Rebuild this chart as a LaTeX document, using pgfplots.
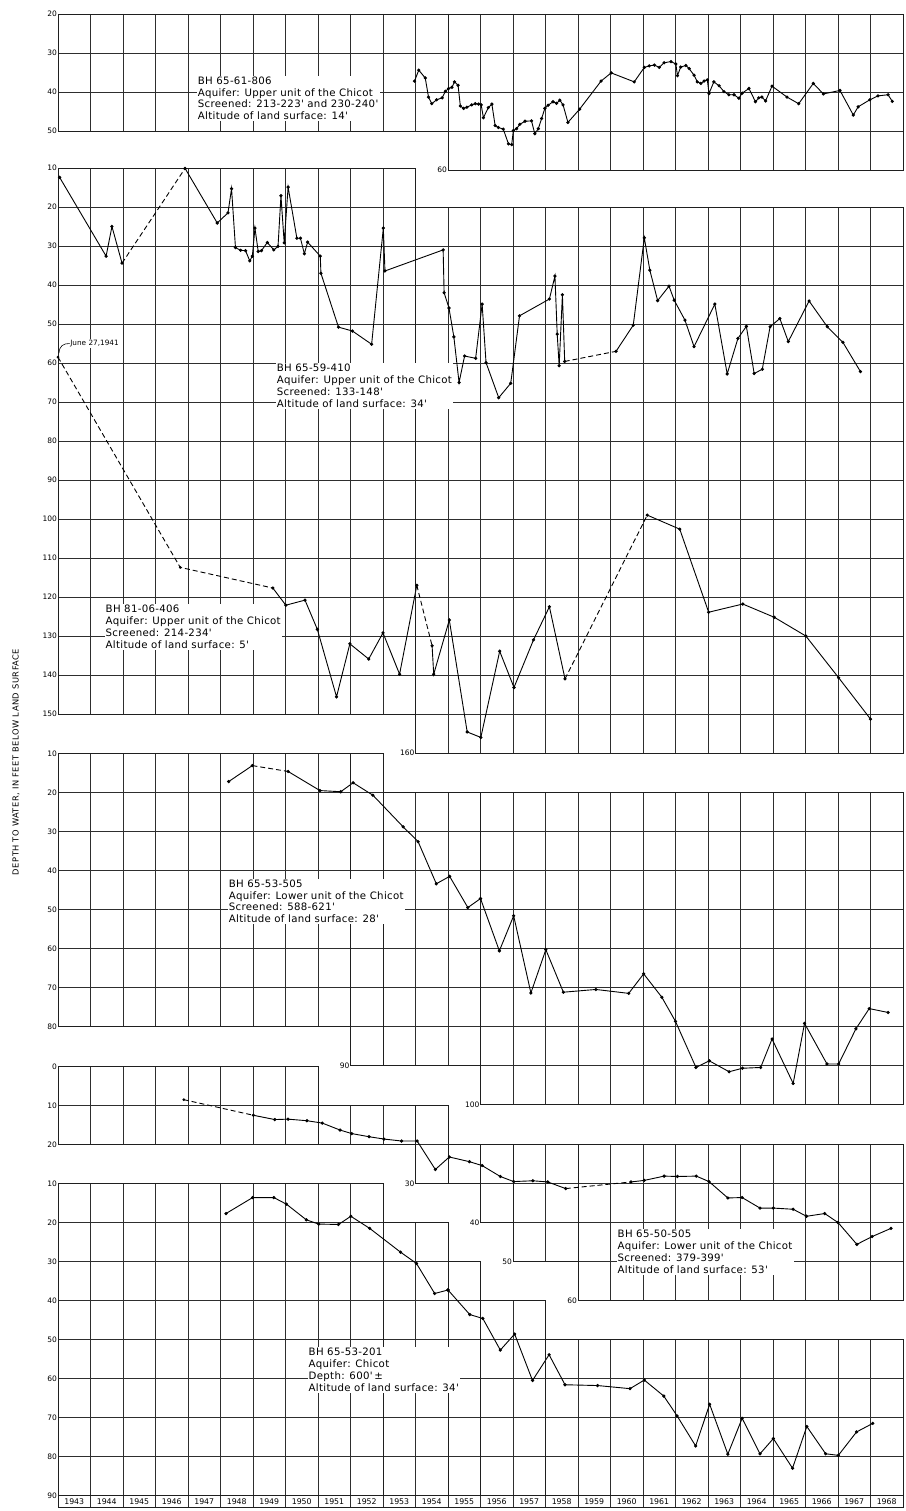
\documentclass[border=0pt]{standalone}
\usepackage{fontspec}
\setmainfont{DejaVu Sans}
\newfontfamily\spacedfont[LetterSpace=6]{DejaVu Sans}
\newfontfamily\annfamily[LetterSpace=3]{DejaVu Sans}
\usepackage{pgfplots}
\pgfplotsset{compat=1.18}
\usepackage{pgfplotstable}

\pgfplotsset{
  panel/.style={
    x=32.5pt, y=3.9pt, y dir=reverse, anchor=north west,
    axis line style={line width=0.7pt, black!88},
    grid=major,
    major grid style={line width=0.65pt, black!82},
    xtick={1943,1944,...,1969}, xticklabels={},
    major tick length=0pt,
    yticklabel style={font=\fontsize{7.5}{8}\selectfont, inner sep=0.8pt},
    /pgf/number format/assume math mode=true,
  },
  dl/.style={black, line width=0.9pt, mark=*, mark size=1.15pt, mark options={solid}},
  dsh/.style={black, line width=0.9pt, dash pattern=on 5pt off 3pt},
}

% ---------- BH 65-61-806 ----------
\pgfplotstableread{
x d
1953.97 37.2
1954.10 34.4
1954.30 36.4
1954.40 41.3
1954.50 43.0
1954.65 42.0
1954.82 41.5
1954.92 39.8
1955.02 39.1
1955.12 38.8
1955.20 37.4
1955.31 38.3
1955.38 43.6
1955.48 44.2
1955.58 43.9
1955.73 43.3
1955.84 43.0
1955.94 43.1
1956.02 43.3
1956.09 46.6
1956.24 44.0
1956.35 43.1
1956.45 48.6
1956.55 49.1
1956.70 49.5
1956.86 53.3
1956.96 53.5
1957.01 49.9
1957.11 49.4
1957.21 48.3
1957.37 47.5
1957.57 47.4
1957.67 50.7
1957.78 49.4
1957.88 46.8
1957.98 44.2
1958.08 43.4
1958.23 42.5
1958.34 42.9
1958.44 42.1
1958.54 43.3
1958.69 47.8
1959.05 44.4
1959.71 37.2
1960.02 35.1
1960.73 37.4
1961.04 33.7
1961.19 33.3
1961.35 33.1
1961.50 33.7
1961.65 32.5
1961.86 32.2
1962.01 32.8
1962.06 35.8
1962.16 33.6
1962.32 33.2
1962.42 34.0
1962.57 35.7
1962.67 37.4
1962.78 37.8
1962.88 37.2
1962.98 36.9
1963.03 40.4
1963.18 37.4
1963.34 38.4
1963.49 39.9
1963.64 40.7
1963.80 40.7
1963.95 41.6
1964.05 40.3
1964.26 39.1
1964.46 42.5
1964.56 41.5
1964.66 41.3
1964.77 42.3
1964.97 38.5
1965.43 41.3
1965.79 43.0
1966.24 37.8
1966.55 40.5
1967.06 39.6
1967.47 45.9
1967.62 43.8
1967.98 42.0
1968.23 41.0
1968.54 40.7
1968.67 42.4
}\tOne

% ---------- BH 65-59-410 ----------
\pgfplotstableread{
x d
1943.05 12.4
1944.48 32.6
1944.66 25.0
1944.97 34.4
}\tTwoA
\pgfplotstableread{
x d
1946.91 10.1
1947.90 24.1
1948.23 21.5
1948.34 15.3
1948.46 30.4
1948.62 31.1
1948.77 31.2
1948.90 33.8
1948.98 32.6
1949.06 25.4
1949.16 31.4
1949.26 31.2
1949.44 29.1
1949.64 31.0
1949.77 30.1
1949.86 17.1
1949.96 29.2
1950.08 14.9
1950.35 28.0
1950.46 28.0
1950.58 32.0
1950.68 29.0
1951.07 32.6
1951.09 37.0
1951.63 50.8
1952.06 51.8
1952.65 55.2
1953.01 25.4
1953.06 36.4
1954.85 31.0
1954.88 42.0
1955.03 45.9
1955.18 53.3
1955.34 65.0
1955.51 58.2
1955.85 58.8
1956.05 44.9
1956.17 59.9
1956.56 68.9
1956.93 65.2
1957.20 47.9
1958.12 43.6
1958.29 37.7
1958.36 52.6
1958.42 60.7
1958.52 42.5
1958.59 59.6
}\tTwoB
\pgfplotstableread{
x d
1960.17 57.0
1960.70 50.3
1961.04 27.9
1961.21 36.2
1961.45 44.0
1961.80 40.3
1961.96 43.9
1962.29 49.0
1962.57 55.8
1963.21 44.9
1963.59 62.8
1963.92 53.7
1964.18 50.6
1964.42 62.7
1964.67 61.6
1964.91 50.7
1965.21 48.6
1965.47 54.5
1966.11 44.1
1966.67 50.7
1967.15 54.7
1967.69 62.2
}\tTwoC

% ---------- BH 81-06-406 ----------
\pgfplotstableread{
x d
1949.61 117.7
1950.01 122.1
1950.60 120.8
1950.98 128.3
1951.57 145.6
1951.98 132.0
1952.56 135.9
1953.00 129.2
1953.51 139.8
1954.04 117.0
}\tTwoD
\pgfplotstableread{
x d
1954.51 132.5
1954.56 139.8
1955.04 125.9
1955.59 154.6
1956.01 156.0
1956.59 133.9
1957.03 143.2
1957.63 131.0
1958.12 122.5
1958.60 141.0
}\tTwoE
\pgfplotstableread{
x d
1961.13 99.0
1962.13 102.6
1963.02 123.9
1964.07 121.8
1965.04 125.2
1966.01 130.0
1967.02 140.7
1968.00 151.3
}\tTwoF

% ---------- BH 65-53-505 ----------
\pgfplotstableread{
x d
1948.25 17.2
1948.98 13.1
}\tThrA
\pgfplotstableread{
x d
1950.08 14.6
1951.06 19.5
1951.70 19.8
1952.08 17.5
1952.69 20.7
1953.62 28.8
1954.08 32.6
1954.64 43.4
1955.05 41.5
1955.61 49.5
1956.00 47.2
1956.58 60.6
1957.02 51.6
1957.55 71.4
1958.01 60.3
1958.55 71.2
1959.55 70.5
1960.56 71.5
1961.02 66.5
1961.58 72.5
1962.00 78.7
1962.63 90.5
1963.04 88.8
1963.65 91.6
1964.06 90.7
1964.62 90.5
1964.97 83.2
1965.62 94.6
1965.97 79.2
1966.66 89.6
1967.02 89.6
1967.55 80.6
1967.96 75.4
1968.54 76.4
}\tThrB

% ---------- BH 65-50-505 ----------
\pgfplotstableread{
x d
1949.01 12.5
1949.67 13.6
1950.08 13.5
1950.66 13.9
1951.13 14.5
1951.68 16.3
1952.04 17.2
1952.57 18.0
1953.03 18.6
1953.57 19.1
1954.05 19.1
1954.61 26.4
1955.04 23.2
1955.66 24.4
1956.05 25.4
1956.61 28.2
1957.02 29.5
1957.61 29.3
1958.07 29.6
1958.62 31.3
}\tFouA
\pgfplotstableread{
x d
1960.63 29.6
1961.04 29.2
1961.65 28.1
1962.06 28.2
1962.64 28.1
1963.03 29.5
1963.61 33.7
1964.05 33.6
1964.60 36.3
1965.01 36.3
1965.62 36.6
1966.03 38.4
1966.59 37.7
1967.00 40.0
1967.58 45.6
1968.05 43.6
1968.63 41.5
}\tFouB

% ---------- BH 65-53-201 ----------
\pgfplotstableread{
x d
1948.17 17.7
1948.99 13.6
1949.64 13.6
1950.03 15.3
1950.64 19.3
1951.02 20.4
1951.63 20.5
1952.01 18.4
1952.59 21.5
1953.54 27.6
1954.03 30.5
1954.59 38.2
1955.00 37.3
1955.67 43.6
1956.07 44.6
1956.61 52.7
1957.05 48.6
1957.60 60.5
1958.11 53.9
1958.60 61.6
1959.60 61.8
1960.60 62.6
1961.04 60.4
1961.64 64.5
1962.05 69.6
1962.62 77.3
1963.05 66.6
1963.61 79.4
1964.05 70.2
1964.60 79.3
1965.01 75.4
1965.60 83.0
1966.04 72.3
1966.62 79.3
1967.01 79.7
1967.57 73.7
1968.07 71.5
}\tFiv

\newcommand\PlotOne{\addplot[dl] table[x=x,y=d]{\tOne};}
\newcommand\PlotTwo{%
  \addplot[dl] table[x=x,y=d]{\tTwoA};
  \addplot[dsh] coordinates {(1944.97,34.4)(1946.91,10.1)};
  \addplot[dl] table[x=x,y=d]{\tTwoB};
  \addplot[dsh] coordinates {(1958.59,59.6)(1960.17,57.0)};
  \addplot[dl] table[x=x,y=d]{\tTwoC};
  \addplot[dsh] coordinates {(1943.00,58.5)(1946.76,112.4)(1949.61,117.7)};
  \addplot[only marks, mark=*, mark size=1.15pt] coordinates {(1943.00,58.5)(1946.76,112.4)};
  \addplot[dl] table[x=x,y=d]{\tTwoD};
  \addplot[dsh] coordinates {(1954.04,117.0)(1954.51,132.5)};
  \addplot[dl] table[x=x,y=d]{\tTwoE};
  \addplot[dsh] coordinates {(1958.60,141.0)(1961.13,99.0)};
  \addplot[dl] table[x=x,y=d]{\tTwoF};
}
\newcommand\PlotThr{%
  \addplot[dl] table[x=x,y=d]{\tThrA};
  \addplot[dsh] coordinates {(1948.98,13.1)(1950.08,14.6)};
  \addplot[dl] table[x=x,y=d]{\tThrB};
}
\newcommand\PlotFou{%
  \addplot[dsh] coordinates {(1946.87,8.5)(1949.01,12.5)};
  \addplot[only marks, mark=*, mark size=1.15pt] coordinates {(1946.87,8.5)};
  \addplot[dl] table[x=x,y=d]{\tFouA};
  \addplot[dsh] coordinates {(1958.62,31.3)(1960.63,29.6)};
  \addplot[dl] table[x=x,y=d]{\tFouB};
}
\newcommand\PlotFiv{\addplot[dl] table[x=x,y=d]{\tFiv};}

\newcommand\annfont{\annfamily\fontsize{10.2}{11.8}\selectfont}
\tikzset{ann/.style={anchor=north west, align=left, fill=white, inner xsep=1.2pt, inner ysep=1.2pt, font=\annfont}}

\begin{document}
\begin{tikzpicture}
\useasboundingbox (0,0) rectangle (905pt,-1511pt);

% ===== Panel 1 =====
\begin{axis}[panel, xmin=1943, xmax=1955, ymin=20, ymax=50, at={(58pt,-14pt)}, ytick={20,30,...,50}]
\PlotOne
\end{axis}
\begin{axis}[panel, xmin=1955, xmax=1969, ymin=20, ymax=60, at={(448pt,-14pt)}, ytick={20,30,...,60}, yticklabels={,,,,60}]
\PlotOne
\end{axis}

% ===== Panel 2 =====
\begin{axis}[panel, xmin=1943, xmax=1954, ymin=10, ymax=150, at={(58pt,-168pt)}, ytick={10,20,...,150}]
\PlotTwo
\end{axis}
\begin{axis}[panel, xmin=1954, xmax=1969, ymin=20, ymax=160, at={(415.5pt,-207pt)}, ytick={20,30,...,160}, yticklabels={,,,,,,,,,,,,,,160}]
\PlotTwo
\end{axis}

% ===== Panel 3 =====
\begin{axis}[panel, xmin=1943, xmax=1952, ymin=10, ymax=80, at={(58pt,-753.5pt)}, ytick={10,20,...,80}]
\PlotThr
\end{axis}
\begin{axis}[panel, xmin=1952, xmax=1953, ymin=10, ymax=90, at={(350.5pt,-753.5pt)}, ytick={10,20,...,90}, yticklabels={,,,,,,,,90}]
\PlotThr
\end{axis}
\begin{axis}[panel, xmin=1953, xmax=1956, ymin=20, ymax=90, at={(383pt,-792.5pt)}, ytick={20,30,...,90}, yticklabels={}]
\PlotThr
\end{axis}
\begin{axis}[panel, xmin=1956, xmax=1969, ymin=20, ymax=100, at={(480.5pt,-792.5pt)}, ytick={20,30,...,100}, yticklabels={,,,,,,,,100}]
\PlotThr
\end{axis}

% ===== Panel 4 =====
\begin{axis}[panel, xmin=1943, xmax=1951, ymin=0, ymax=20, at={(58pt,-1066.5pt)}, ytick={0,10,20}]
\PlotFou
\end{axis}
\begin{axis}[panel, xmin=1951, xmax=1954, ymin=10, ymax=20, at={(318pt,-1105.5pt)}, ytick={10,20}, yticklabels={}]
\PlotFou
\end{axis}
\begin{axis}[panel, xmin=1954, xmax=1955, ymin=10, ymax=30, at={(415.5pt,-1105.5pt)}, ytick={10,20,30}, yticklabels={,,30}]
\PlotFou
\end{axis}
\begin{axis}[panel, xmin=1955, xmax=1956, ymin=20, ymax=30, at={(448pt,-1144.5pt)}, ytick={20,30}, yticklabels={}]
\PlotFou
\end{axis}
\begin{axis}[panel, xmin=1956, xmax=1957, ymin=20, ymax=40, at={(480.5pt,-1144.5pt)}, ytick={20,30,40}, yticklabels={,,40}]
\PlotFou
\end{axis}
\begin{axis}[panel, xmin=1957, xmax=1959, ymin=20, ymax=50, at={(513pt,-1144.5pt)}, ytick={20,30,40,50}, yticklabels={,,,50}]
\PlotFou
\end{axis}
\begin{axis}[panel, xmin=1959, xmax=1969, ymin=20, ymax=60, at={(578pt,-1144.5pt)}, ytick={20,30,...,60}, yticklabels={,,,,60}]
\PlotFou
\end{axis}

% ===== Panel 5 =====
\begin{axis}[panel, xmin=1943, xmax=1953, ymin=10, ymax=90, at={(58pt,-1183.5pt)}, ytick={10,20,...,90}]
\PlotFiv
\end{axis}
\begin{axis}[panel, xmin=1953, xmax=1955, ymin=20, ymax=90, at={(383pt,-1222.5pt)}, ytick={20,30,...,90}, yticklabels={}]
\PlotFiv
\end{axis}
\begin{axis}[panel, xmin=1955, xmax=1956, ymin=30, ymax=90, at={(448pt,-1261.5pt)}, ytick={30,40,...,90}, yticklabels={}]
\PlotFiv
\end{axis}
\begin{axis}[panel, xmin=1956, xmax=1958, ymin=40, ymax=90, at={(480.5pt,-1300.5pt)}, ytick={40,50,...,90}, yticklabels={}]
\PlotFiv
\end{axis}
\begin{axis}[panel, xmin=1958, xmax=1969, ymin=50, ymax=90, at={(545.5pt,-1339.5pt)}, ytick={50,60,...,90}, yticklabels={}]
\PlotFiv
\end{axis}

% ===== Year band =====
\begin{axis}[x=32.5pt, y=11.5pt, xmin=1943, xmax=1969, ymin=0, ymax=1,
  anchor=north west, at={(58pt,-1495.5pt)},
  axis line style={line width=0.7pt, black!88},
  ytick=\empty, major tick length=0pt,
  xtick={1943.5,1944.5,...,1968.5},
  xticklabels={1943,1944,1945,1946,1947,1948,1949,1950,1951,1952,1953,1954,1955,1956,1957,1958,1959,1960,1961,1962,1963,1964,1965,1966,1967,1968},
  xticklabel style={anchor=center, yshift=5.75pt, font=\fontsize{7.8}{8}\selectfont},
  extra x ticks={1944,1945,...,1968}, extra x tick labels={},
  extra x tick style={grid=major, major grid style={line width=0.65pt, black!82}},
  /pgf/number format/assume math mode=true]
\end{axis}

% ===== Annotations =====
\node[ann] at (196.5pt,-75.4pt) {BH 65-61-806\\Aquifer: Upper unit of the Chicot\\Screened: 213-223' and 230-240'\\Altitude of land surface: 14'};
\node[ann] at (275.5pt,-362.9pt) {BH 65-59-410\\Aquifer: Upper unit of the Chicot\\Screened: 133-148'\\Altitude of land surface: 34'};
\node[ann] at (104.3pt,-604pt) {BH 81-06-406\\Aquifer: Upper unit of the Chicot\\Screened: 214-234'\\Altitude of land surface: 5'};
\node[ann] at (227.5pt,-878.3pt) {BH 65-53-505\\Aquifer: Lower unit of the Chicot\\Screened: 588-621'\\Altitude of land surface: 28'};
\node[ann] at (616.3pt,-1229pt) {BH 65-50-505\\Aquifer: Lower unit of the Chicot\\Screened: 379-399'\\Altitude of land surface: 53'};
\node[ann] at (307.3pt,-1346.8pt) {BH 65-53-201\\Aquifer: Chicot\\Depth: 600'\,±\\Altitude of land surface: 34'};

\node[anchor=west, fill=white, inner sep=0.6pt, font=\fontsize{7.3}{8}\selectfont] at (69.5pt,-343.5pt) {June 27,1941};
\draw[line width=0.6pt] (59pt,-353pt) .. controls (59.5pt,-346pt) and (63pt,-343.5pt) .. (69.5pt,-343.5pt);

\node[rotate=90, font=\spacedfont\fontsize{8.3}{8}\selectfont] at (16pt,-762pt) {DEPTH TO WATER, IN FEET BELOW LAND SURFACE};
\end{tikzpicture}
\end{document}
